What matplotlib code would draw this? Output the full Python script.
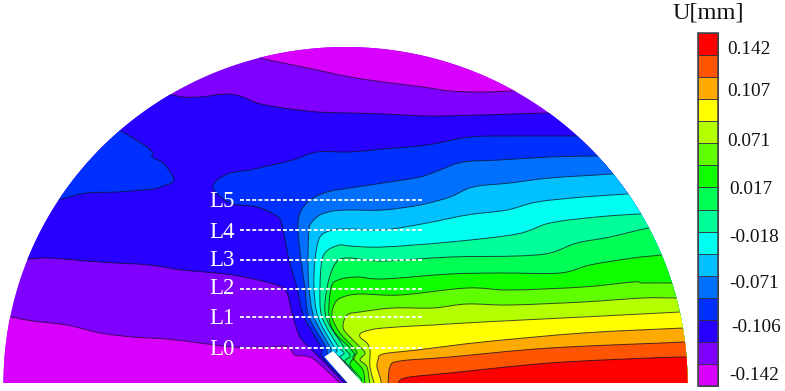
import numpy as np
import matplotlib
matplotlib.use("Agg")
import matplotlib.pyplot as plt
from matplotlib.path import Path
from matplotlib.patches import PathPatch, Polygon, Rectangle

plt.rcParams['font.family'] = ['Liberation Serif', 'DejaVu Serif']

# Displacement bands, lowest to highest
band_colors = ['#D800FF', '#8000FF', '#2800FF', '#0030FF', '#0070FF', '#00C0FF',
               '#00FFF0', '#00FF99', '#00FF55', '#10FF00', '#60FF00', '#B4FF00',
               '#FFFF00', '#FFAA00', '#FF5500', '#FF0000']
bar_labels = ['0.142', '0.107', '0.071', '0.017', '-0.018', '-0.071', '-0.106', '-0.142']
path_names = ['L0', 'L1', 'L2', 'L3', 'L4', 'L5']

# Isolines traced on the plate, x and y in plate units
iso_top_0 = [(230, 50), (260, 58), (283, 63), (317, 70), (350, 77), (383, 82), (423, 87), (450, 91), (483, 92), (513, 91), (560, 91)]
iso_top_1 = [(140, 92), (172, 95), (182, 97), (200, 97), (227, 94), (243, 97), (257, 103), (283, 108), (317, 112), (350, 113), (383, 114), (427, 116), (483, 115), (547, 113), (600, 113)]
iso_low_0 = [(0, 316), (11, 317), (33, 321), (67, 325), (100, 333), (133, 337), (167, 339), (200, 343), (233, 347), (267, 347), (283, 346), (290, 348), (295, 355), (310, 357), (323, 367), (343, 386)]
iso_low_1 = [(10, 259), (29, 259), (50, 258), (100, 262), (150, 265), (183, 270), (233, 275), (277, 285), (287, 293), (292, 313), (300, 337), (312, 350), (325, 363), (347, 386)]
iso_blob = [(100, 118), (121, 131), (133, 138), (147, 147), (153, 153), (152, 157), (163, 163), (172, 175), (173, 182), (163, 186), (153, 189), (117, 192), (87, 193), (62, 199), (40, 205)]

iso_3 = [(350, 386), (323, 358), (321, 347), (304, 317), (297, 288), (289, 260), (283, 230), (278, 217), (257, 207), (233, 204), (218, 195), (213, 187), (217, 180), (230, 173), (250, 170), (267, 166), (293, 160), (317, 152), (350, 152), (383, 149), (427, 145), (470, 137), (517, 136), (575, 136), (640, 136)]
iso_4 = [(355, 386), (329, 356), (326, 347), (309, 317), (305, 288), (301, 260), (298, 230), (300, 213), (310, 200), (327, 192), (350, 188), (383, 183), (420, 177), (440, 170), (463, 162), (500, 160), (550, 157), (597, 156), (660, 156)]
iso_5 = [(355, 386), (333, 355), (330, 347), (314, 317), (309, 288), (308, 260), (309, 230), (312, 222), (320, 215), (333, 211), (350, 210), (383, 210), (420, 205), (450, 197), (473, 187), (510, 183), (550, 178), (612, 174), (660, 170)]
iso_6 = [(355, 386), (344, 362), (336, 354), (337, 350), (333, 345), (318, 317), (314, 288), (315, 260), (320, 237), (333, 230), (350, 229), (383, 230), (427, 223), (467, 215), (507, 210), (537, 202), (583, 197), (627, 194), (670, 190)]
iso_7 = [(355, 386), (350, 368), (340, 358), (344, 353), (338, 346), (322, 317), (320, 288), (322, 260), (328, 250), (340, 245), (350, 246), (383, 247), (450, 242), (517, 234), (550, 223), (597, 217), (640, 214), (680, 213)]
iso_8 = [(355, 386), (356, 376), (345, 362), (350, 356), (344, 347), (326, 317), (327, 288), (335, 264), (347, 258), (383, 261), (450, 257), (517, 256), (550, 253), (577, 243), (610, 237), (648, 228), (690, 220)]
iso_9 = [(359, 386), (361, 379), (350, 365), (355, 356), (349, 347), (335, 333), (329, 317), (331, 288), (338, 280), (357, 277), (383, 279), (450, 274), (500, 273), (560, 273), (590, 265), (633, 258), (661, 255), (700, 250)]
iso_10 = [(365, 386), (363, 370), (353, 358), (357, 353), (353, 347), (340, 333), (332, 317), (335, 303), (343, 297), (360, 294), (400, 295), (467, 288), (510, 290), (583, 287), (633, 282), (643, 283), (672, 283), (700, 285)]
iso_11 = [(370, 386), (367, 367), (360, 360), (365, 353), (358, 345), (348, 335), (343, 327), (347, 315), (360, 312), (393, 308), (433, 308), (467, 304), (510, 305), (583, 302), (643, 298), (676, 298), (700, 298)]
iso_12 = [(375, 386), (370, 367), (370, 350), (367, 343), (360, 337), (363, 332), (383, 328), (433, 325), (483, 322), (583, 317), (680, 312), (700, 311)]
iso_13 = [(382, 386), (380, 377), (377, 367), (378, 360), (383, 354), (417, 350), (483, 342), (583, 333), (683, 328), (700, 327)]
iso_14 = [(388, 386), (390, 367), (400, 361), (450, 357), (550, 348), (685, 342), (700, 341)]
iso_15 = [(398, 386), (405, 378), (450, 373), (550, 363), (650, 358), (688, 357), (700, 357)]

rising_isolines = [iso_3, iso_4, iso_5, iso_6, iso_7, iso_8, iso_9, iso_10, iso_11, iso_12, iso_13, iso_14, iso_15]

LINE = dict(color='#10102a', lw=0.7, alpha=0.75, fill=False, capstyle='round', joinstyle='round')
CX, BASE, RX, RY = 345.5, 383.0, 342.0, 336.0


def curve_segments(pts):
    """Bezier vertices and codes for a smooth run through pts (first vertex excluded)."""
    p = np.array([pts[0]] + list(pts) + [pts[-1]], dtype=float)
    verts, codes = [], []
    for i in range(1, len(p) - 2):
        verts += [p[i] + (p[i + 1] - p[i - 1]) / 6, p[i + 1] - (p[i + 2] - p[i]) / 6, p[i + 1]]
        codes += [Path.CURVE4] * 3
    return verts, codes


def line_path(pts):
    v, c = curve_segments(pts)
    return Path([pts[0]] + v, [Path.MOVETO] + c)


def region_path(pts, closing):
    v, c = curve_segments(pts)
    verts = [pts[0]] + v + list(closing) + [pts[0]]
    codes = [Path.MOVETO] + c + [Path.LINETO] * len(closing) + [Path.CLOSEPOLY]
    return Path(verts, codes)


fig = plt.figure(figsize=(7.85, 3.91), dpi=100)
ax = fig.add_axes([0, 0, 1, 1])
ax.set_xlim(0, 785)
ax.set_ylim(391, 0)
ax.axis('off')

theta = np.linspace(0, np.pi, 361)
plate = Polygon(np.column_stack([CX + RX * np.cos(theta), BASE - RY * np.sin(theta)]),
                closed=True, facecolor=band_colors[1], edgecolor='none', zorder=1)
ax.add_patch(plate)


def add_fill(path, color, z):
    patch = PathPatch(path, facecolor=color, edgecolor=color, lw=0.2, zorder=z)
    ax.add_patch(patch)
    patch.set_clip_path(plate)


def add_line(pts):
    patch = PathPatch(line_path(pts), zorder=40, **LINE)
    ax.add_patch(patch)
    patch.set_clip_path(plate)


# Bands are painted from the lowest level upward
add_fill(region_path(iso_top_0, [(800, 91), (800, 0), (0, 0), (0, 50)]), band_colors[0], 2)
add_fill(region_path(iso_low_0, [(343, 400), (0, 400)]), band_colors[0], 2)
v1, c1 = curve_segments(iso_top_1)
v2, c2 = curve_segments(iso_low_1[::-1])
between = Path([iso_top_1[0]] + v1 + [(800, 113), (800, 400), (347, 400), iso_low_1[-1]] + v2 + [iso_top_1[0]],
               [Path.MOVETO] + c1 + [Path.LINETO] * 4 + c2 + [Path.CLOSEPOLY])
add_fill(between, band_colors[2], 3)
add_fill(region_path(iso_blob, []), band_colors[3], 4)

for k, iso in enumerate(rising_isolines):
    x0 = iso[0][0]
    y1 = iso[-1][1]
    add_fill(region_path(iso, [(800, y1), (800, 400), (x0, 400)]), band_colors[3 + k], 5 + k)

for iso in [iso_top_0, iso_top_1, iso_low_0, iso_low_1, iso_blob] + rising_isolines:
    add_line(iso)

# Pre-crack
ax.add_patch(Polygon([(324.3, 356.7), (333.3, 351), (363, 383.5), (348, 383.5)],
                     facecolor='white', edgecolor='none', zorder=50))

# Measurement paths
path_y = [347.5, 317, 288.5, 260, 230, 200]
name_y = [349.7, 318.7, 288.7, 260.7, 232.9, 201.2]
for name, y, ty in zip(path_names, path_y, name_y):
    ax.plot([240, 423], [y, y], color='white', lw=1.3, ls=(0, (2.2, 1.2)), zorder=60)
    ax.text(209, ty, name, color='white', fontsize=16.5, va='center', ha='left', zorder=61)

# Colour scale
bar_left, bar_right, bar_top, bar_bottom = 697.5, 717.5, 33.0, 386.0
edges = np.linspace(bar_bottom, bar_top, len(band_colors) + 1)
for k, color in enumerate(band_colors):
    ax.add_patch(Rectangle((bar_left, edges[k + 1]), bar_right - bar_left, edges[k] - edges[k + 1],
                           facecolor=color, edgecolor='#303040', lw=0.6, zorder=5))
ax.add_patch(Rectangle((bar_left, bar_top), bar_right - bar_left, bar_bottom - bar_top,
                       facecolor='none', edgecolor='#404048', lw=1.1, zorder=6))

label_y = [49, 92, 141, 189, 238, 283, 327, 376]
label_x = [727.5, 727.5, 727.5, 729, 729, 729, 731, 729]
for text, x, y in zip(bar_labels, label_x, label_y):
    ax.text(x, y, text, fontsize=13.9, color='#111111', va='center', ha='left', zorder=7)
ax.text(708, 13.5, 'U[mm]', fontsize=17.6, color='#111111', va='center', ha='center', zorder=7)

fig.savefig('out.png', dpi=100, facecolor='white')
